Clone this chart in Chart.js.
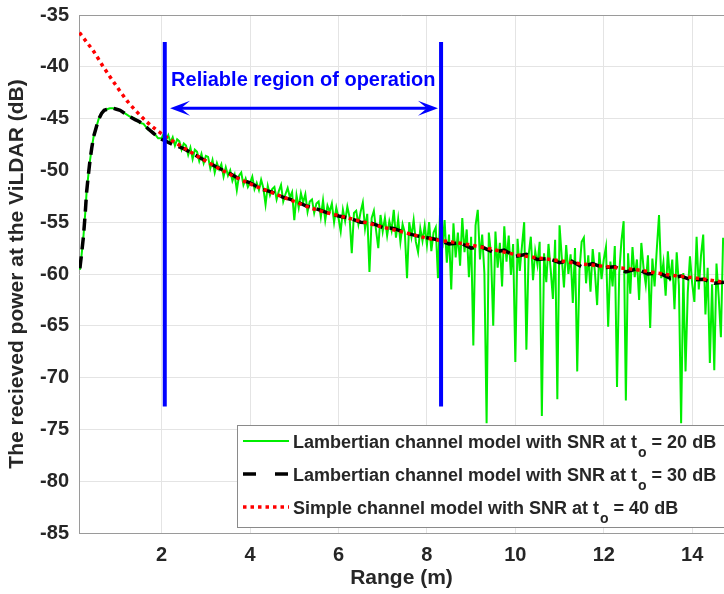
<!DOCTYPE html>
<html>
<head>
<meta charset="utf-8">
<script src="https://cdn.jsdelivr.net/npm/chart.js@4.4.1/dist/chart.umd.min.js"></script>
<style>
  html, body { margin: 0; padding: 0; background: #fff; }
</style>
</head>
<body>
<canvas id="chart" width="724" height="594"></canvas>
<script>
// Received power vs range: Lambertian (noisy) vs simple channel model.

const X_TICKS = [2, 4, 6, 8, 10, 12, 14];
const Y_TICKS = [-85, -80, -75, -70, -65, -60, -55, -50, -45, -40, -35];

// ── Simple channel model, SNR 40 dB (red dotted) ─────────────────────────────
const SIMPLE_X = [0.14, 0.3, 0.46, 0.65, 0.83, 1.0, 1.24, 1.45, 1.66, 2.04, 2.34, 2.8, 3.55, 4.0, 4.53, 5.0,
  5.43, 6.03, 6.5, 6.94, 7.5, 8.07, 8.7, 9.35, 10.1, 10.8, 11.46, 12.1, 12.75, 13.5, 14.1, 14.72];
const SIMPLE_Y = [-36.7, -37.6, -38.5, -39.8, -40.95, -42.0, -43.4, -44.4, -45.3, -46.6, -47.4, -48.6, -50.4, -51.3, -52.2, -53.0,
  -53.7, -54.4, -54.9, -55.4, -56.0, -56.6, -57.0, -57.5, -58.2, -58.6, -59.0, -59.3, -59.6, -60.1, -60.4, -60.8];

// ── Lambertian model, SNR 30 dB (black dashed) ───────────────────────────────
const LAMB30_X = [0.15, 0.19, 0.23, 0.27, 0.30, 0.34, 0.38, 0.42, 0.46, 0.51, 0.57, 0.64, 0.70, 0.76, 0.83, 0.90,
  0.98, 1.06, 1.17, 1.28, 1.40, 1.50, 1.59, 1.70, 1.81, 1.92, 2.00,
  2.25, 2.5, 2.75, 3.0, 3.25, 3.5, 3.75, 4.0, 4.25, 4.5, 4.75, 5.0, 5.25, 5.5, 5.75, 6.0, 6.25, 6.5, 6.75, 7.0,
  7.25, 7.5, 7.75, 8.0, 8.25, 8.5, 8.75, 9.0, 9.25, 9.5, 9.75, 10.0, 10.25, 10.5, 10.75, 11.0, 11.25, 11.5,
  11.75, 12.0, 12.25, 12.5, 12.75, 13.0, 13.25, 13.5, 13.75, 14.0, 14.25, 14.5, 14.72];
const LAMB30_Y = [-59.45, -58.0, -56.4, -54.2, -52.2, -50.5, -49.0, -47.8, -46.75, -46.0, -45.1, -44.5, -44.2, -44.1, -44.0, -44.0,
  -44.1, -44.2, -44.5, -44.8, -45.1, -45.3, -45.6, -46.0, -46.4, -46.8, -47.0,
  -47.5, -47.9, -48.5, -49.1, -49.7, -50.2, -50.8, -51.2, -51.8, -52.1, -52.6, -52.9, -53.4, -53.7, -54.1, -54.4, -54.6, -55.0, -55.1, -55.5,
  -55.6, -56.0, -56.3, -56.5, -56.7, -57.1, -57.0, -57.5, -57.4, -57.9, -57.7, -58.3, -58.1, -58.6, -58.5, -58.9, -58.7, -59.3,
  -59.0, -59.4, -59.3, -59.8, -59.5, -60.0, -59.9, -60.4, -60.2, -60.6, -60.5, -60.9, -60.8];

// ── Lambertian model, SNR 20 dB (green) ──────────────────────────────────────
const LAMB20_HEAD_X = [0.15, 0.19, 0.23, 0.27, 0.30, 0.34, 0.38, 0.42, 0.46, 0.51, 0.57, 0.64, 0.70, 0.76, 0.83, 0.90,
  0.98, 1.06, 1.17, 1.28, 1.40, 1.50, 1.59, 1.70, 1.81, 1.92, 2.00];
const LAMB20_HEAD_Y = [-59.6, -58.1, -56.4, -54.2, -52.2, -50.5, -49.0, -47.8, -46.75, -46.0, -45.1, -44.5, -44.2, -44.1, -44.0, -44.0,
  -44.1, -44.2, -44.5, -44.8, -45.0, -45.4, -45.5, -46.1, -46.3, -46.9, -46.9];
// noisy part sampled every 0.05 m from 2.05 m
const LAMB20_NOISY_START = 2.05;
const LAMB20_NOISY_STEP = 0.05;
const LAMB20_NOISY_Y = [
  -46.4, -47.1, -46.6, -47.3, -46.8, -47.6, -47.0, -47.2, -48.0, -47.4,
  -47.6, -48.5, -47.8, -48.9, -48.0, -48.2, -49.1, -48.4, -49.3, -48.6,
  -48.7, -49.8, -49.0, -50.2, -49.3, -49.9, -49.4, -50.6, -49.7, -50.5,
  -50.0, -51.0, -50.4, -51.9, -50.5, -50.2, -51.4, -50.8, -51.6, -51.2,
  -50.6, -51.8, -51.2, -51.9, -50.9, -51.7, -53.3, -51.5, -52.4, -51.8,
  -51.6, -52.8, -52.0, -51.4, -53.0, -52.3, -51.7, -52.6, -52.1, -54.8,
  -52.4, -53.6, -52.2, -53.1, -52.3, -54.0, -53.0, -52.8, -54.1, -53.2,
  -53.0, -54.5, -52.9, -54.8, -53.4, -54.0, -53.2, -55.0, -53.6, -54.6,
  -55.9, -53.8, -54.9, -53.5, -54.5, -58.0, -54.1, -53.9, -55.2, -54.0,
  -53.1, -55.6, -54.2, -59.8, -54.6, -53.9, -55.8, -57.5, -54.3, -55.9,
  -54.6, -56.3, -54.9, -55.8, -53.8, -56.5, -54.7, -56.9, -55.2, -56.0,
  -60.4, -55.0, -56.4, -54.8, -56.9, -57.9, -55.6, -56.8, -55.3, -57.2,
  -55.0, -57.8, -56.0, -55.5, -60.4, -53.6, -57.5, -54.8, -58.9, -56.2,
  -61.5, -55.1, -58.4, -56.0, -59.2, -54.6, -57.9, -55.7, -60.3, -56.4,
  -66.9, -55.3, -53.8, -58.6, -56.2, -59.9, -74.4, -56.0, -58.1, -65.0,
  -55.9, -59.4, -57.0, -61.2, -55.4, -58.8, -56.3, -60.1, -57.1, -68.5,
  -56.6, -59.7, -57.3, -55.0, -67.3, -58.2, -56.4, -60.6, -57.8, -59.1,
  -56.9, -73.7, -58.0, -60.8, -57.1, -59.6, -62.4, -56.7, -72.1, -55.3,
  -58.4, -61.3, -57.2, -60.0, -58.1, -62.8, -57.5, -69.4, -59.7, -56.9,
  -56.5, -60.9, -58.2, -61.7, -57.6, -59.8, -63.0, -57.9, -60.5, -58.6,
  -57.4, -65.1, -58.8, -61.2, -57.3, -70.9, -59.9, -56.8, -54.9, -72.2,
  -58.0, -61.9, -57.4, -60.3, -58.6, -62.5, -57.0, -59.4, -61.0, -58.2,
  -65.2, -58.5, -61.2, -57.6, -54.3, -60.4, -58.9, -62.1, -57.8, -60.7,
  -58.6, -63.4, -57.9, -61.1, -74.4, -59.9, -69.4, -61.8, -58.3, -60.9,
  -62.7, -56.4, -61.5, -58.2, -56.2, -63.9, -59.4, -68.6, -61.0, -69.3,
  -59.0, -62.2, -66.1, -56.5
];

// ── Reliable region markers ──────────────────────────────────────────────────
const REGION_X = [2.07, 8.32];
const REGION_Y = [-37.6, -72.8];
const ARROW_X = [2.19, 8.25];
const ARROW_Y = -44.0;
const REGION_LABEL = 'Reliable region of operation';
const REGION_LABEL_Y = -41.3;

const LEGEND_LABELS = [
  ['Lambertian channel model with SNR at t', 'o', ' = 20 dB'],
  ['Lambertian channel model with SNR at t', 'o', ' = 30 dB'],
  ['Simple channel model with SNR at t', 'o', ' = 40 dB']
];

const FONT = '"Liberation Sans", Arial, sans-serif';
const TXT = '#262626';
const GRID = '#e4e4e4';
const AXIS = '#9a9a9a';
const GREEN = '#00ee00';
const BLACK = '#000000';
const RED = '#ff0000';
const BLUE = '#0000ff';

const zip = (xs, ys) => xs.map((x, i) => ({ x, y: ys[i] }));

const greenData = zip(LAMB20_HEAD_X, LAMB20_HEAD_Y).concat(
  LAMB20_NOISY_Y.map((y, i) => ({ x: +(LAMB20_NOISY_START + i * LAMB20_NOISY_STEP).toFixed(2), y }))
);

const lineStyles = [
  { color: GREEN, width: 2, dash: [] },
  { color: BLACK, width: 3.5, dash: [13, 19] },
  { color: RED, width: 3.5, dash: [3.5, 4] }
];

// ── Overlays: box top, arrow, label, legend ──────────────────────────────────
const overlay = {
  id: 'overlay',
  afterDatasetsDraw(chart) {
    const { ctx, chartArea: a, scales: { x, y } } = chart;
    ctx.save();

    // top edge of the box
    ctx.strokeStyle = AXIS; ctx.lineWidth = 1;
    ctx.beginPath(); ctx.moveTo(a.left, a.top + 0.5); ctx.lineTo(a.right, a.top + 0.5); ctx.stroke();

    // double arrow
    const ay = y.getPixelForValue(ARROW_Y);
    const x0 = x.getPixelForValue(ARROW_X[0]);
    const x1 = x.getPixelForValue(ARROW_X[1]);
    ctx.strokeStyle = BLUE; ctx.fillStyle = BLUE; ctx.lineWidth = 3;
    ctx.beginPath(); ctx.moveTo(x0 + 6, ay); ctx.lineTo(x1 - 6, ay); ctx.stroke();
    const head = (tx, dir) => {
      ctx.beginPath();
      ctx.moveTo(tx, ay);
      ctx.lineTo(tx - dir * 20, ay - 7.5);
      ctx.lineTo(tx - dir * 11, ay);
      ctx.lineTo(tx - dir * 20, ay + 7.5);
      ctx.closePath(); ctx.fill();
    };
    head(x0, -1);
    head(x1, 1);

    // label
    ctx.font = 'bold 20px ' + FONT;
    ctx.textBaseline = 'middle';
    ctx.textAlign = 'left';
    ctx.fillText(REGION_LABEL, x0 + 1, y.getPixelForValue(REGION_LABEL_Y));

    // legend box
    const L = { x: 237, y: 425, w: 500, h: 102 };
    ctx.fillStyle = '#fff';
    ctx.fillRect(L.x, L.y, L.w, L.h);
    ctx.strokeStyle = '#8a8a8a'; ctx.lineWidth = 1;
    ctx.strokeRect(L.x + 0.5, L.y + 0.5, L.w, L.h);
    const rows = [441, 474, 507];
    LEGEND_LABELS.forEach((parts, i) => {
      const cy = rows[i];
      const st = lineStyles[i];
      ctx.strokeStyle = st.color; ctx.lineWidth = st.width; ctx.setLineDash(st.dash);
      ctx.beginPath(); ctx.moveTo(243, cy); ctx.lineTo(289, cy); ctx.stroke();
      ctx.setLineDash([]);
      ctx.fillStyle = TXT;
      ctx.textBaseline = 'alphabetic';
      ctx.font = 'bold 18px ' + FONT;
      let tx = 293;
      ctx.fillText(parts[0], tx, cy + 7);
      tx += ctx.measureText(parts[0]).width + 1;
      ctx.font = 'bold 14px ' + FONT;
      ctx.fillText(parts[1], tx, cy + 16);
      tx += ctx.measureText(parts[1]).width;
      ctx.font = 'bold 18px ' + FONT;
      ctx.fillText(parts[2], tx, cy + 7);
    });
    ctx.restore();
  }
};

const regionLine = (xv) => ({
  label: 'region',
  data: [{ x: xv, y: REGION_Y[0] }, { x: xv, y: REGION_Y[1] }],
  showLine: true,
  borderColor: BLUE,
  borderWidth: 4,
  pointRadius: 0,
  order: 0
});

new Chart(document.getElementById('chart').getContext('2d'), {
  type: 'scatter',
  data: {
    datasets: [
      regionLine(REGION_X[0]),
      regionLine(REGION_X[1]),
      {
        label: 'Simple channel model with SNR at to = 40 dB',
        data: zip(SIMPLE_X, SIMPLE_Y),
        showLine: true, borderColor: RED, borderWidth: 3.5, borderDash: [3.5, 4],
        cubicInterpolationMode: 'monotone', pointRadius: 0, order: 1
      },
      {
        label: 'Lambertian channel model with SNR at to = 30 dB',
        data: zip(LAMB30_X, LAMB30_Y),
        showLine: true, borderColor: BLACK, borderWidth: 3.5, borderDash: [12, 7],
        pointRadius: 0, order: 2
      },
      {
        label: 'Lambertian channel model with SNR at to = 20 dB',
        data: greenData,
        showLine: true, borderColor: GREEN, borderWidth: 2,
        pointRadius: 0, order: 3
      }
    ]
  },
  options: {
    responsive: false,
    animation: false,
    layout: { padding: { top: 15, right: 0, left: 0, bottom: 0 } },
    plugins: { legend: { display: false }, tooltip: { enabled: false } },
    scales: {
      x: {
        type: 'linear', min: 0.13, max: 14.72,
        afterBuildTicks: s => { s.ticks = X_TICKS.map(v => ({ value: v })); },
        afterFit: s => { s.height = 61; s.paddingLeft = 0; s.paddingRight = 0; },
        grid: { color: GRID, drawTicks: false },
        border: { color: AXIS, width: 1 },
        ticks: { color: TXT, font: { family: FONT, size: 20, weight: 'bold' }, padding: 10 },
        title: {
          display: true, text: 'Range (m)', color: TXT,
          font: { family: FONT, size: 21, weight: 'bold' }, padding: { top: 0, bottom: 3 }
        }
      },
      y: {
        type: 'linear', min: -85, max: -35,
        afterBuildTicks: s => { s.ticks = Y_TICKS.map(v => ({ value: v })); },
        afterFit: s => { s.width = 79; s.paddingTop = 0; s.paddingBottom = 0; },
        grid: { color: GRID, drawTicks: false },
        border: { color: AXIS, width: 1 },
        ticks: { color: TXT, font: { family: FONT, size: 20, weight: 'bold' }, padding: 10 },
        title: {
          display: true, text: 'The recieved power at the ViLDAR (dB)', color: TXT,
          font: { family: FONT, size: 21, weight: 'bold' }, padding: { top: 5, bottom: 0 }
        }
      }
    }
  },
  plugins: [overlay]
});
</script>
</body>
</html>
